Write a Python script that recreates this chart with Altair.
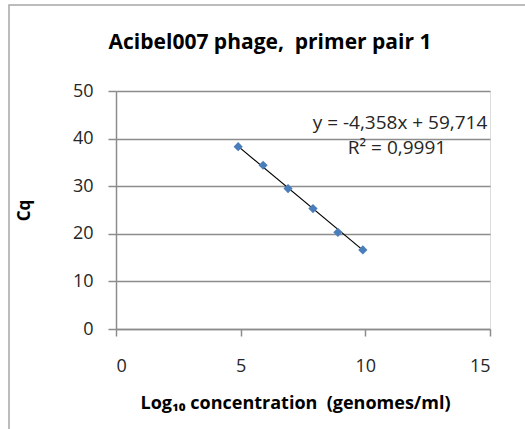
import altair as alt
import pandas as pd

# Standard curve: log10 concentration vs Cq
log_conc = [4.9, 5.9, 6.9, 7.9, 8.9, 9.9]
cq = [38.3, 34.4, 29.5, 25.3, 20.3, 16.6]

# Linear fit reported on the chart
slope = -4.358
intercept = 59.714
eq_label = "y = -4,358x + 59,714"
r2_label = "R² = 0,9991"

points = pd.DataFrame({"x": log_conc, "y": cq})
fit_x = [min(log_conc), max(log_conc)]
fit = pd.DataFrame({"x": fit_x, "y": [slope * v + intercept for v in fit_x]})

FONT = "Open Sans"
GRID = "#8c8c8c"
NBSP = "\u00a0"

xscale = alt.Scale(domain=[0, 15], nice=False)
yscale = alt.Scale(domain=[0, 50], nice=False)

x_axis = alt.Axis(
    values=[0, 5, 10, 15], grid=False, domain=True, domainColor=GRID, domainWidth=1.5,
    tickColor=GRID, tickWidth=1.5, tickSize=7, labelFont=FONT, labelFontSize=18,
    labelColor="#262626", labelPadding=21,
    title=f"Log₁₀ concentration {NBSP}(genomes/ml)", titleFont=FONT, titleFontSize=18,
    titleFontWeight="bold", titleColor="#000000", titleY=79, titleX=179,
    titleBaseline="alphabetic",
)
y_axis = alt.Axis(
    values=[0, 10, 20, 30, 40, 50], grid=True, gridColor=GRID, gridWidth=1.5,
    domain=True, domainColor=GRID, domainWidth=1.5, tickColor=GRID, tickWidth=1.5,
    tickSize=8, labelFont=FONT, labelFontSize=18, labelColor="#262626", labelPadding=15,
    title="Cq", titleFont=FONT, titleFontSize=17, titleFontWeight="bold",
    titleColor="#000000", titleX=-83, titleY=119, titleAngle=270,
)

frame = alt.Chart(pd.DataFrame({"k": [0]})).mark_rect(
    fill=None, stroke="#a6a6a6", strokeWidth=1.5
).encode(
    x=alt.value(-107), x2=alt.value(420), y=alt.value(-86), y2=alt.value(350)
)

title = alt.Chart(pd.DataFrame({"t": [f"Acibel007 phage, {NBSP}primer pair 1"]})).mark_text(
    font=FONT, fontSize=21, fontWeight="bold", color="#000000",
    align="center", baseline="alphabetic",
).encode(x=alt.value(154), y=alt.value(-42), text="t:N")

line = alt.Chart(fit).mark_line(color="#000000", strokeWidth=1.2).encode(
    x=alt.X("x:Q", scale=xscale, axis=x_axis),
    y=alt.Y("y:Q", scale=yscale, axis=y_axis),
)

markers = alt.Chart(points).mark_point(
    shape="diamond", filled=True, color="#4a7ebb", size=85, opacity=1
).encode(x=alt.X("x:Q", scale=xscale), y=alt.Y("y:Q", scale=yscale))

labels = alt.Chart(pd.DataFrame({"t": [eq_label, r2_label], "px": [284, 281], "py": [38, 63]})).mark_text(
    font=FONT, fontSize=19, color="#262626", align="center", baseline="alphabetic"
).encode(x=alt.X("px:Q", scale=None), y=alt.Y("py:Q", scale=None), text="t:N")

chart = alt.layer(frame, title, line, markers, labels).properties(
    width=374, height=238,
    autosize=alt.AutoSizeParams(type="none"),
    padding={"left": 116, "top": 91, "right": 35, "bottom": 100},
).configure_view(stroke=None).configure(background="#ffffff")

chart.save("out.html", embed_options={"renderer": "svg", "actions": False})
